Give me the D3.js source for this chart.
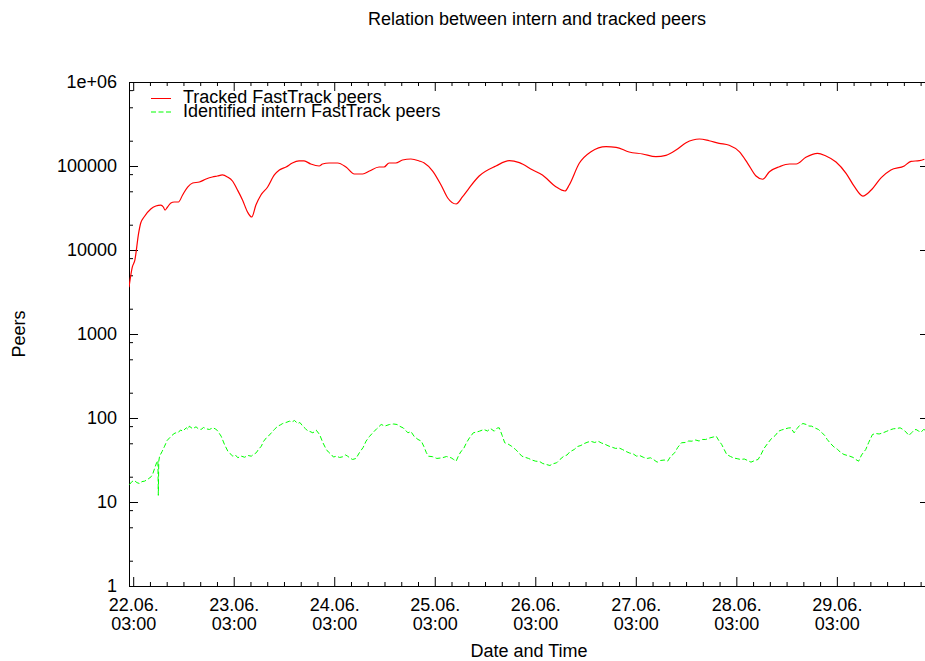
<!DOCTYPE html>
<html>
<head>
<meta charset="utf-8">
<script src="https://cdn.jsdelivr.net/npm/d3@7"></script>
<style>
  body { margin: 0; background: #fff; }
  svg text { font-family: "Liberation Sans", Arial, Helvetica, sans-serif; font-size: 18px; fill: #000; }
</style>
</head>
<body>
<div id="chart"></div>
<script>
// hours after 22.06. 00:00
const trackedHours = [2.0, 2.8, 3.4, 4.3, 4.8, 5.6, 7.2, 8.4, 9.6, 10.2, 10.6, 11.2, 12.0, 12.8, 13.8, 14.8, 16.0, 17.2, 18.8, 20.4,
  21.9, 23.1, 24.3, 25.5, 26.7, 27.9, 29.1, 30.3, 31.3, 32.3, 33.5, 35.1, 36.7, 37.9, 39.5, 41.0, 42.6, 43.8, 45.4, 47.4,
  48.2, 49.8, 51.8, 53.8, 55.8, 57.8, 59.4, 61.7, 62.9, 64.1, 65.7, 67.3, 69.3, 71.3, 72.5, 74.5, 76.5, 78.1, 80.1, 81.6,
  83.2, 85.6, 89.6, 92.8, 95.2, 98.4, 100.7, 103.9, 106.1, 107.1, 109.5, 112.3, 115.9, 118.3, 121.4, 124.6, 127.8, 130.2, 132.6, 135.0,
  138.2, 140.5, 142.9, 145.3, 147.7, 149.7, 151.7, 153.3, 154.9, 157.3, 159.7, 161.3, 163.6, 166.4, 168.4, 170.8, 173.2, 175.2, 177.2, 179.2,
  181.6, 183.9, 187.1, 188.7, 190.7, 191.9];
const trackedPeers = [3600, 6280, 7600, 15900, 20950, 24700, 30800, 33400, 34300, 32500, 29900, 32500, 36300, 37300, 37300, 45200, 56200, 62800, 64500, 70000,
  74000, 76000, 78200, 74000, 66300, 51800, 39400, 28300, 24700, 34300, 45200, 56200, 78200, 89600, 97300, 108600, 114800, 114800, 105600, 100000,
  105600, 108600, 108600, 97300, 80300, 80300, 87100, 97300, 97300, 108600, 108600, 117900, 121200, 114800, 108600, 87100, 59400, 41600, 35300, 42800,
  54700, 76000, 100000, 115600, 109500, 89600, 78200, 56700, 50400, 59400, 107700, 148000, 169800, 167000, 146800, 139000, 129000, 134000, 155000, 189400,
  209600, 200000, 186200, 176300, 148000, 107700, 76000, 69500, 85500, 98100, 105600, 105600, 127000, 141700, 131500, 111600, 81900, 56700, 43900, 51800,
  72600, 89600, 100000, 113700, 115600, 120200];

const internHours = [2.1, 2.7, 3.3, 3.9, 4.5, 5.1, 5.7, 6.4, 7.3, 7.7, 8.1, 8.6, 8.9, 9.0, 9.1, 9.3, 9.9, 10.5, 11.1, 11.7,
  12.5, 13.0, 13.7, 14.3, 14.8, 15.7, 16.1, 16.4, 17.2, 18.0, 18.6, 19.2, 19.8, 20.4, 21.2, 22.0, 22.7, 23.2, 24.0, 24.8,
  25.6, 26.1, 26.8, 27.4, 28.0, 28.7, 29.6, 30.4, 31.2, 31.7, 32.4, 32.9, 33.6, 34.1, 34.8, 35.3, 36.0, 36.7, 37.5, 38.1,
  38.7, 39.5, 40.3, 40.9, 41.5, 42.3, 42.8, 43.5, 44.1, 44.7, 45.2, 45.9, 46.7, 47.5, 48.3, 49.1, 49.6, 50.3, 50.8, 51.5,
  52.3, 53.1, 53.7, 54.2, 54.9, 55.4, 56.2, 57.0, 57.9, 58.6, 59.4, 60.2, 61.2, 62.2, 63.1, 64.2, 65.2, 66.0, 66.6, 67.5,
  68.6, 69.3, 70.1, 71.0, 71.8, 72.4, 73.0, 73.5, 74.5, 75.5, 76.8, 77.8, 78.9, 79.5, 80.1, 80.7, 81.3, 81.8, 82.6, 83.3,
  84.2, 85.0, 85.7, 86.7, 87.6, 88.3, 89.2, 89.9, 90.4, 91.1, 91.7, 92.5, 93.3, 94.3, 95.0, 95.8, 96.7, 97.4, 98.2, 99.1,
  100.0, 100.8, 101.6, 102.5, 103.1, 104.1, 104.9, 105.8, 106.6, 107.2, 108.3, 109.1, 109.9, 110.7, 111.6, 112.4, 113.2, 114.0, 114.8, 115.5,
  116.6, 117.5, 118.2, 119.0, 119.8, 120.7, 121.5, 122.4, 123.2, 123.9, 124.9, 125.7, 126.5, 127.2, 128.1, 128.9, 129.8, 130.6, 131.3, 132.3,
  133.0, 133.9, 134.8, 135.6, 136.4, 137.3, 138.1, 138.9, 139.7, 140.6, 141.5, 142.2, 142.8, 143.5, 144.1, 144.7, 145.6, 146.4, 147.2, 148.0,
  148.9, 149.7, 150.5, 151.4, 152.2, 152.9, 153.6, 154.6, 155.4, 156.3, 157.1, 157.8, 158.6, 159.4, 160.0, 160.8, 161.5, 162.1, 162.9, 163.7,
  164.3, 165.0, 165.8, 166.6, 167.4, 168.1, 168.7, 169.5, 170.3, 171.2, 171.9, 172.7, 173.5, 174.1, 174.9, 175.5, 176.2, 176.9, 177.9, 178.6,
  179.5, 180.3, 181.1, 182.0, 182.8, 183.6, 184.5, 185.3, 186.1, 187.0, 187.7, 188.2, 188.9, 189.5, 189.9, 190.5, 191.1, 191.7, 192.4];
const internPeers = [16.1, 17.5, 18.0, 17.0, 16.6, 17.5, 17.7, 18.5, 20.0, 21.8, 25.0, 29.5, 31.2, 12.0, 30.4, 35.1, 39.9, 46.2, 54.0, 58.1,
  63.6, 66.3, 66.6, 72.0, 69.7, 76.4, 73.0, 79.9, 74.4, 78.6, 74.0, 73.0, 77.1, 74.4, 73.0, 76.4, 74.0, 69.7, 60.7, 48.4,
  40.2, 37.8, 35.1, 36.3, 33.6, 35.3, 34.1, 35.8, 35.1, 36.8, 38.6, 42.2, 46.2, 52.5, 58.1, 61.1, 66.6, 73.0, 79.9, 82.5,
  86.0, 88.4, 91.6, 89.6, 93.4, 86.0, 88.4, 79.9, 75.0, 69.7, 69.1, 66.6, 71.6, 63.6, 50.7, 42.2, 39.4, 36.8, 34.3, 35.1,
  33.9, 34.6, 36.3, 35.1, 33.0, 32.1, 33.0, 38.6, 44.6, 53.0, 60.2, 66.6, 75.0, 83.7, 80.3, 83.7, 84.8, 83.7, 79.9, 76.0,
  66.6, 69.1, 60.2, 55.5, 53.0, 45.8, 38.6, 35.1, 34.6, 33.0, 33.6, 34.8, 33.6, 32.1, 30.6, 35.8, 40.2, 42.2, 51.1, 58.1,
  66.6, 68.1, 69.7, 73.0, 70.0, 75.0, 69.7, 76.0, 76.4, 61.9, 50.7, 49.0, 46.2, 42.2, 38.8, 35.1, 33.9, 33.0, 31.6, 30.6,
  30.4, 28.7, 28.0, 27.2, 28.4, 29.3, 32.1, 35.1, 36.3, 39.4, 42.2, 45.8, 47.1, 49.7, 51.8, 52.5, 51.1, 53.0, 50.4, 49.0,
  46.2, 44.6, 43.4, 44.0, 42.2, 39.9, 38.3, 37.3, 35.1, 35.8, 33.9, 33.0, 33.6, 32.1, 29.8, 31.2, 31.6, 30.6, 34.8, 38.6,
  44.6, 50.7, 51.1, 53.2, 53.0, 54.7, 53.2, 55.5, 55.5, 57.8, 59.4, 60.7, 54.0, 48.4, 42.2, 36.8, 34.8, 33.4, 32.8, 32.1,
  32.5, 31.2, 29.8, 31.2, 32.1, 36.8, 43.4, 50.7, 57.0, 61.9, 69.7, 72.0, 74.0, 76.0, 76.4, 66.6, 75.0, 81.4, 86.0, 83.7,
  80.3, 79.9, 76.0, 73.0, 67.2, 61.9, 55.5, 49.7, 45.2, 42.2, 38.8, 36.8, 35.8, 35.1, 33.9, 32.1, 30.6, 36.3, 42.2, 51.1,
  63.6, 65.4, 64.5, 66.6, 69.1, 72.0, 74.4, 75.0, 76.4, 72.0, 66.3, 61.9, 67.2, 72.0, 73.0, 70.0, 67.6, 73.0, 71.0];

const yMajorTicks = [1, 10, 100, 1000, 10000, 100000, 1000000];
const dayTickHours = [3, 27, 51, 75, 99, 123, 147, 171];

const start = new Date(2004, 5, 22, 0, 0);
const toDate = h => new Date(+start + h * 3600e3);

const margin = {top: 82, left: 129},
    width = 800,
    height = 504;

const svg = d3.select("#chart")
    .append("svg")
    .attr("width", 925)
    .attr("height", 661);

const g = svg.append("g")
    .attr("transform", `translate(${margin.left},${margin.top})`);

const x = d3.scaleTime()
    .domain([toDate(2), toDate(193)])
    .range([0, width]);

const y = d3.scaleLog()
    .domain([1, 1e6])
    .range([height, 0]);

// tick positions
const xMajor = dayTickHours.map(toDate);
const xMinor = d3.range(7, 193, 4).filter(h => (h - 3) % 24 !== 0).map(toDate);
const yMinor = yMajorTicks.slice(0, -1).flatMap(d => [2 * d, 5 * d, 8 * d]);

const fmtDay = d3.timeFormat("%d.%m."),
    fmtTime = d3.timeFormat("%H:%M");

// bottom axis with two-line labels
const xAxis = g.append("g")
    .attr("transform", `translate(0,${height})`)
    .call(d3.axisBottom(x).tickValues(xMajor).tickSize(-9).tickSizeOuter(0));
xAxis.selectAll("text").each(function (d) {
    const t = d3.select(this).text(null).attr("dy", null).attr("y", null);
    t.append("tspan").attr("x", 0).attr("y", 25).text(fmtDay(d));
    t.append("tspan").attr("x", 0).attr("y", 44).text(fmtTime(d));
});
g.append("g")
    .attr("transform", `translate(0,${height})`)
    .call(d3.axisBottom(x).tickValues(xMinor).tickSize(-4).tickSizeOuter(0).tickFormat(""));

// top mirror ticks
g.append("g")
    .call(d3.axisTop(x).tickValues(xMajor).tickSize(-9).tickSizeOuter(0).tickFormat(""));
g.append("g")
    .call(d3.axisTop(x).tickValues(xMinor).tickSize(-4).tickSizeOuter(0).tickFormat(""));

// left axis
g.append("g")
    .call(d3.axisLeft(y).tickValues(yMajorTicks).tickSize(-9).tickSizeOuter(0).tickPadding(12)
        .tickFormat(d => d === 1e6 ? "1e+06" : String(d)));
g.append("g")
    .call(d3.axisLeft(y).tickValues(yMinor).tickSize(-4).tickSizeOuter(0).tickFormat(""));

// right mirror ticks
g.append("g")
    .attr("transform", `translate(${width},0)`)
    .call(d3.axisRight(y).tickValues(yMajorTicks).tickSize(-9).tickSizeOuter(0).tickFormat(""));
g.append("g")
    .attr("transform", `translate(${width},0)`)
    .call(d3.axisRight(y).tickValues(yMinor).tickSize(-4).tickSizeOuter(0).tickFormat(""));

g.selectAll(".domain").remove();
g.selectAll(".tick line").attr("stroke", "#000");

// frame
g.append("rect")
    .attr("x", 0.5).attr("y", 0.5)
    .attr("width", width).attr("height", height)
    .attr("fill", "none")
    .attr("stroke", "#000");

// clip the lines to the frame
svg.append("defs").append("clipPath").attr("id", "clip")
    .append("rect").attr("width", width).attr("height", height);

const layer = g.append("g").attr("clip-path", "url(#clip)");

const tracked = trackedHours.map((h, i) => ({t: toDate(h), v: trackedPeers[i]}));
const intern = internHours.map((h, i) => ({t: toDate(h), v: internPeers[i]}));

layer.append("path")
    .datum(tracked)
    .attr("fill", "none")
    .attr("stroke", "#ff0000")
    .attr("stroke-width", 1.2)
    .attr("d", d3.line().curve(d3.curveMonotoneX).x(d => x(d.t)).y(d => y(d.v)));

layer.append("path")
    .datum(intern)
    .attr("fill", "none")
    .attr("stroke", "#00ff00")
    .attr("stroke-width", 1)
    .attr("stroke-dasharray", "5,2.5")
    .attr("d", d3.line().x(d => x(d.t)).y(d => y(d.v)));

// legend (lines sit close together, as in the original)
const legend = [
    {label: "Tracked FastTrack peers", color: "#ff0000", dash: null},
    {label: "Identified intern FastTrack peers", color: "#00ff00", dash: "5,2.5"}
];
const lg = svg.append("g").attr("transform", "translate(151,98)");
legend.forEach((d, i) => {
    lg.append("line")
        .attr("x1", 0).attr("x2", 20)
        .attr("y1", i * 13.5 + 0.5).attr("y2", i * 13.5 + 0.5)
        .attr("stroke", d.color)
        .attr("stroke-dasharray", d.dash);
    lg.append("text")
        .attr("x", 32).attr("y", i * 14.3 + 5)
        .text(d.label);
});

// titles
svg.append("text")
    .attr("x", 537).attr("y", 25)
    .attr("text-anchor", "middle")
    .text("Relation between intern and tracked peers");

svg.append("text")
    .attr("x", margin.left + width / 2).attr("y", 657)
    .attr("text-anchor", "middle")
    .text("Date and Time");

svg.append("text")
    .attr("transform", `translate(25,${margin.top + height / 2}) rotate(-90)`)
    .attr("text-anchor", "middle")
    .text("Peers");
</script>
</body>
</html>
